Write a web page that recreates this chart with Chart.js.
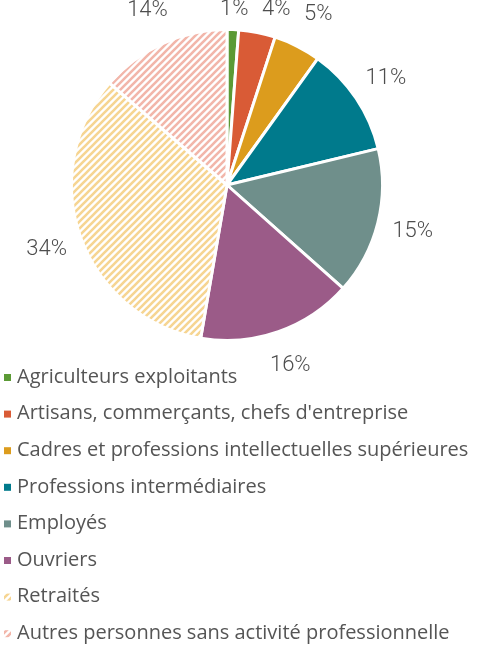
<!DOCTYPE html>
<html>
<head>
<meta charset="utf-8">
<script src="https://cdn.jsdelivr.net/npm/chart.js@4/dist/chart.umd.min.js"></script>
<style>
  html, body { margin: 0; padding: 0; background: #fff; }
  #wrap { width: 490px; height: 648px; }
</style>
</head>
<body>
<div id="wrap"><canvas id="pie"></canvas></div>
<script>
// data
var categories = [
    "Agriculteurs exploitants",
    "Artisans, commerçants, chefs d'entreprise",
    "Cadres et professions intellectuelles supérieures",
    "Professions intermédiaires",
    "Employés",
    "Ouvriers",
    "Retraités",
    "Autres personnes sans activité professionnelle"
];
// shares, labels show them rounded
var shares = [1.2, 3.8, 4.9, 11.3, 15.3, 16.1, 33.6, 13.6];
var sliceColors = ["#5b9a35", "#d95b36", "#dc9c1d", "#007a8c", "#6f8f8b", "#9b5b88", "#f6d592", "#f2b6aa"];
var hatched = [false, false, false, false, false, false, true, true];

// striped fill for the two last groups
function makeHatch(color) {
    var size = 7;
    var c = document.createElement('canvas');
    c.width = size; c.height = size;
    var g = c.getContext('2d');
    g.fillStyle = '#fff';
    g.fillRect(0, 0, size, size);
    g.strokeStyle = color;
    g.lineWidth = 2.6;
    g.beginPath();
    g.moveTo(-1, size + 1); g.lineTo(size + 1, -1);
    g.moveTo(-1, 1); g.lineTo(1, -1);
    g.moveTo(size - 1, size + 1); g.lineTo(size + 1, size - 1);
    g.stroke();
    return g.createPattern(c, 'repeat');
}
var ctx0 = document.getElementById('pie').getContext('2d');
var fills = sliceColors.map(function (col, i) {
    return hatched[i] ? makeHatch(col) : col;
});

// percentage labels outside the pie + legend list under it
var outsideLabels = {
    id: 'outsideLabels',
    afterDatasetsDraw: function (chart) {
        var ctx = chart.ctx;
        var meta = chart.getDatasetMeta(0);
        ctx.save();
        ctx.font = 'normal 300 22px Roboto';
        ctx.fillStyle = '#4d4d4d';
        ctx.textAlign = 'center';
        ctx.textBaseline = 'middle';
        var prev = null;
        meta.data.forEach(function (arc, i) {
            var mid = (arc.startAngle + arc.endAngle) / 2;
            var r = arc.outerRadius + 36;
            var x = arc.x + Math.cos(mid) * r;
            var y = Math.max(arc.y + Math.sin(mid) * r, 9);
            // keep the small top labels from overlapping
            if (prev && Math.abs(y - prev.y) < 22 && x - prev.x < 42) x = prev.x + 42;
            ctx.fillText(Math.round(shares[i]) + '%', x, y);
            prev = { x: x, y: y };
        });

        ctx.font = '20px "Open Sans"';
        ctx.textAlign = 'left';
        categories.forEach(function (lab, i) {
            var y = 377 + i * 36.6;
            ctx.fillStyle = fills[i];
            ctx.fillRect(4, y - 3, 7, 7);
            ctx.fillStyle = '#555';
            ctx.fillText(lab, 17, y);
        });
        ctx.restore();
    }
};

new Chart(ctx0, {
    type: 'pie',
    data: {
        labels: categories,
        datasets: [{
            data: shares,
            backgroundColor: fills,
            hoverBackgroundColor: fills,
            borderColor: '#fff',
            borderWidth: 3
        }]
    },
    options: {
        responsive: true,
        maintainAspectRatio: false,
        animation: false,
        layout: { padding: { top: 28, left: 70, right: 106, bottom: 306 } },
        plugins: {
            legend: { display: false },
            tooltip: { enabled: false }
        }
    },
    plugins: [outsideLabels]
});
</script>
</body>
</html>
